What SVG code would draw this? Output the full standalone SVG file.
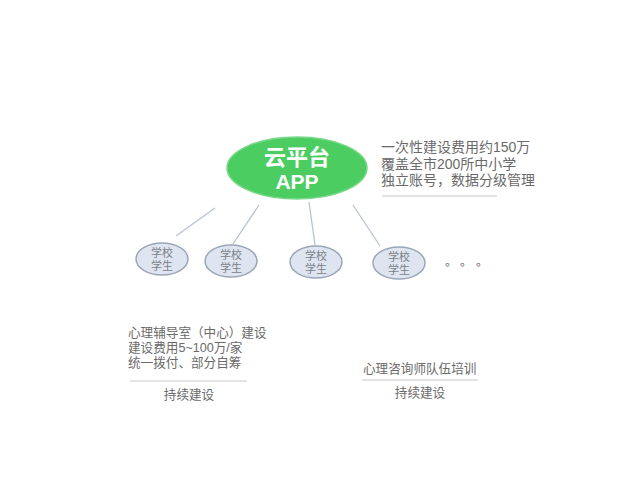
<svg xmlns="http://www.w3.org/2000/svg" width="640" height="480" viewBox="0 0 640 480">
<style>
.t{font-family:"Liberation Sans","Noto Sans CJK SC",sans-serif;fill:#6a6a6a}
.s{font-size:11px;text-anchor:middle;fill:#7a7f88}
.school{fill:#dfe5f0;stroke:#9aa6b8;stroke-width:1.5}
.conn{stroke:#b9c3d3;stroke-width:1.3;fill:none}
.rule{stroke:#c8c8c8;stroke-width:1}
</style>
<rect width="640" height="480" fill="#ffffff"/>
<g id="connectors">
<line class="conn" x1="215" y1="208" x2="176" y2="236"/>
<line class="conn" x1="259" y1="205" x2="233" y2="244"/>
<line class="conn" x1="309" y1="202" x2="315" y2="245"/>
<line class="conn" x1="353" y1="205" x2="380" y2="246"/>
</g>
<g id="app">
<ellipse cx="297" cy="168" rx="70" ry="31" fill="#4ccd62" stroke="#7ad88a" stroke-width="1.5"/>
<text x="297" y="165" font-family="Liberation Sans,Noto Sans CJK SC,sans-serif" font-size="22" font-weight="bold" fill="#ffffff" text-anchor="middle">云平台</text>
<text x="297" y="189" font-family="Liberation Sans,Noto Sans CJK SC,sans-serif" font-size="21" font-weight="bold" fill="#ffffff" text-anchor="middle">APP</text>
</g>
<g id="app-notes">
<text class="t" x="381" y="152" font-size="14">一次性建设费用约150万</text>
<text class="t" x="381" y="168.5" font-size="14">覆盖全市200所中小学</text>
<text class="t" x="381" y="185" font-size="14">独立账号，数据分级管理</text>
<line class="rule" x1="382" y1="196" x2="497" y2="196"/>
</g>
<g id="school1">
<ellipse class="school" cx="162" cy="259" rx="26" ry="16" stroke="#8794a8" stroke-width="2"/>
<text class="t s" x="162" y="257">学校</text>
<text class="t s" x="162" y="270">学生</text>
</g>
<g id="school2">
<ellipse class="school" cx="231" cy="261" rx="26" ry="16"/>
<text class="t s" x="231" y="259">学校</text>
<text class="t s" x="231" y="272">学生</text>
</g>
<g id="school3">
<ellipse class="school" cx="316" cy="262" rx="26" ry="16"/>
<text class="t s" x="316" y="260">学校</text>
<text class="t s" x="316" y="273">学生</text>
</g>
<g id="school4">
<ellipse class="school" cx="399" cy="263" rx="26" ry="16"/>
<text class="t s" x="399" y="261">学校</text>
<text class="t s" x="399" y="274">学生</text>
</g>
<g id="ellipsis">
<text class="t" x="445 460 476" y="266" font-size="12" fill="#555">。。。</text>
</g>
<g id="counseling-room">
<text class="t" x="128" y="337" font-size="12.6">心理辅导室（中心）建设</text>
<text class="t" x="128" y="352" font-size="12.6">建设费用5~100万/家</text>
<text class="t" x="128" y="367" font-size="12.6">统一拨付、部分自筹</text>
<line class="rule" x1="130" y1="381" x2="247" y2="381"/>
<text class="t" x="189" y="399" font-size="12.6" text-anchor="middle">持续建设</text>
</g>
<g id="counselor-training">
<text class="t" x="363" y="373" font-size="12.6">心理咨询师队伍培训</text>
<line class="rule" x1="362" y1="380" x2="478" y2="380"/>
<text class="t" x="420" y="397" font-size="12.6" text-anchor="middle">持续建设</text>
</g>
</svg>
